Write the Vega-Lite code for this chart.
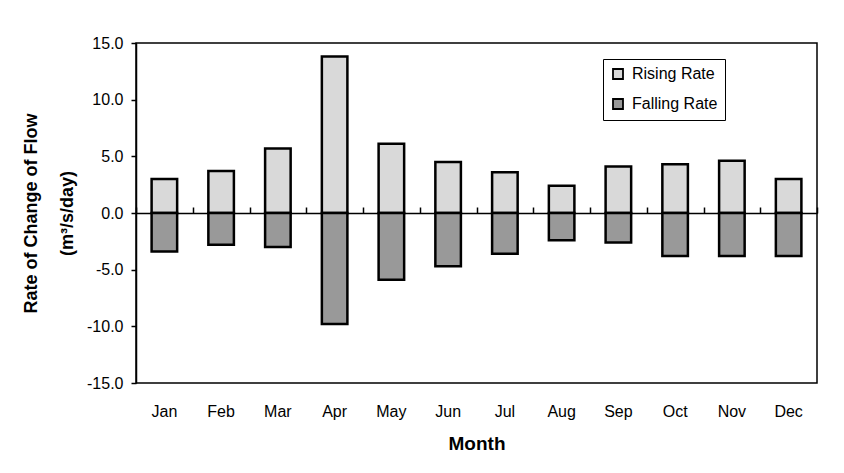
{
  "$schema": "https://vega.github.io/schema/vega-lite/v6.json",
  "width": 681,
  "height": 340,
  "autosize": {"type": "none"},
  "padding": {"left": 136, "top": 43, "right": 27, "bottom": 90},
  "background": "white",
  "config": {
    "font": "Liberation Sans",
    "view": {"stroke": "black", "strokeWidth": 1.5},
    "axis": {"grid": false, "labelColor": "black", "titleColor": "black", "domainColor": "black", "tickColor": "black"}
  },
  "data": {
    "values": [
      {"month": "Jan", "series": "Rising Rate", "value": 3.0},
      {"month": "Feb", "series": "Rising Rate", "value": 3.7},
      {"month": "Mar", "series": "Rising Rate", "value": 5.7},
      {"month": "Apr", "series": "Rising Rate", "value": 13.8},
      {"month": "May", "series": "Rising Rate", "value": 6.1},
      {"month": "Jun", "series": "Rising Rate", "value": 4.5},
      {"month": "Jul", "series": "Rising Rate", "value": 3.6},
      {"month": "Aug", "series": "Rising Rate", "value": 2.4},
      {"month": "Sep", "series": "Rising Rate", "value": 4.1},
      {"month": "Oct", "series": "Rising Rate", "value": 4.3},
      {"month": "Nov", "series": "Rising Rate", "value": 4.6},
      {"month": "Dec", "series": "Rising Rate", "value": 3.0},
      {"month": "Jan", "series": "Falling Rate", "value": -3.4},
      {"month": "Feb", "series": "Falling Rate", "value": -2.8},
      {"month": "Mar", "series": "Falling Rate", "value": -3.0},
      {"month": "Apr", "series": "Falling Rate", "value": -9.8},
      {"month": "May", "series": "Falling Rate", "value": -5.9},
      {"month": "Jun", "series": "Falling Rate", "value": -4.7},
      {"month": "Jul", "series": "Falling Rate", "value": -3.6},
      {"month": "Aug", "series": "Falling Rate", "value": -2.4},
      {"month": "Sep", "series": "Falling Rate", "value": -2.6},
      {"month": "Oct", "series": "Falling Rate", "value": -3.8},
      {"month": "Nov", "series": "Falling Rate", "value": -3.8},
      {"month": "Dec", "series": "Falling Rate", "value": -3.8}
    ]
  },
  "layer": [
    {
      "mark": {"type": "bar", "stroke": "black", "strokeWidth": 2.5, "width": {"band": 0.45}},
      "encoding": {
        "x": {
          "field": "month", "type": "ordinal",
          "sort": ["Jan","Feb","Mar","Apr","May","Jun","Jul","Aug","Sep","Oct","Nov","Dec"],
          "scale": {"paddingInner": 0, "paddingOuter": 0},
          "axis": {"orient": "bottom", "offset": -170, "labels": false, "ticks": true, "tickBand": "extent", "tickSize": -6, "tickWidth": 1.5, "domain": true, "domainWidth": 1.5, "title": null}
        },
        "y": {
          "field": "value", "type": "quantitative", "stack": null,
          "scale": {"domain": [-15, 15], "nice": false},
          "axis": {
            "values": [-15, -10, -5, 0, 5, 10, 15],
            "labelExpr": "datum.value < 0 ? '-' + format(-datum.value, '.1f') : format(datum.value, '.1f')",
            "labelFontSize": 16, "labelPadding": 8, "tickSize": 5, "tickWidth": 1.5, "domainWidth": 1.5,
            "title": ["Rate of Change of Flow", "(m³/s/day)"],
            "titleFontSize": 18, "titleFontWeight": "bold", "titleLineHeight": 36, "titlePadding": 10
          }
        },
        "color": {
          "field": "series", "type": "nominal",
          "scale": {"domain": ["Rising Rate", "Falling Rate"], "range": ["#d9d9d9", "#999999"]},
          "legend": {
            "orient": "none", "legendX": 467, "legendY": 16, "title": null,
            "strokeColor": "black", "padding": 7, "fillColor": "white",
            "symbolType": "square", "symbolSize": 100, "symbolStrokeColor": "black", "symbolStrokeWidth": 1.8,
            "labelFontSize": 16, "labelColor": "black", "labelOffset": 6, "rowPadding": 12
          }
        }
      }
    },
    {
      "mark": {"type": "bar", "opacity": 0},
      "encoding": {
        "x": {
          "field": "month", "type": "ordinal",
          "sort": ["Jan","Feb","Mar","Apr","May","Jun","Jul","Aug","Sep","Oct","Nov","Dec"],
          "axis": {"orient": "bottom", "domain": false, "ticks": false, "tickSize": 0, "labelAngle": 0, "labelPadding": 20, "labelFontSize": 16, "title": "Month", "titleFontSize": 19, "titleFontWeight": "bold", "titlePadding": 15}
        },
        "y": {"field": "value", "type": "quantitative", "stack": null}
      }
    }
  ],
  "resolve": {"axis": {"x": "independent"}}
}
